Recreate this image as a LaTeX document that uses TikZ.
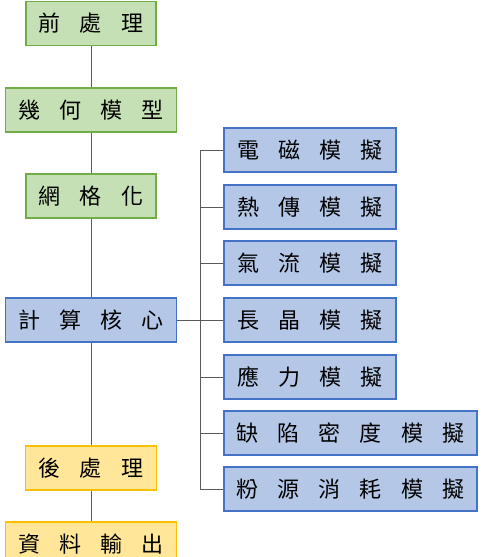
\documentclass[tikz,border=0pt]{standalone}
\usepackage{fontspec}
\newfontfamily\cjk{Noto Sans CJK TC}
\usetikzlibrary{positioning}
\definecolor{grfill}{HTML}{C5E0B4}
\definecolor{grline}{HTML}{70AD47}
\definecolor{blfill}{HTML}{B4C7E7}
\definecolor{blline}{HTML}{4472C4}
\definecolor{ylfill}{HTML}{FFE699}
\definecolor{ylline}{HTML}{FFC000}
\newcommand\boxfont{\cjk\fontsize{22}{22}\selectfont\spaceskip=0.87em plus 0pt\relax}

\begin{document}
\begin{tikzpicture}[x=1pt, y=-1pt, line width=0.9pt,
  bx/.style={draw, line width=1.8pt, minimum height=44pt, inner sep=0pt, font=\boxfont},
  gr/.style={bx, draw=grline, fill=grfill},
  bl/.style={bx, draw=blline, fill=blfill},
  yl/.style={bx, draw=ylline, fill=ylfill},
  ln/.style={draw=black!65, line width=0.9pt}]
  \useasboundingbox (0,0) rectangle (490,557);
  \clip (0,0) rectangle (490,557);
  % main column
  \node[gr, minimum width=130pt] (pre)  at (91,23.5) {前 處 理};
  \node[gr, minimum width=171pt] (geo)  at (91,110)  {幾 何 模 型};
  \node[gr, minimum width=130pt] (mesh) at (91,196)  {網 格 化};
  \node[bl, minimum width=171pt] (core) at (91,320)  {計 算 核 心};
  \node[yl, minimum width=131pt] (post) at (91,468)  {後 處 理};
  \node[yl, minimum width=171pt] (out)  at (91,544)  {資 料 輸 出};
  % simulation modules
  \node[bl, minimum width=172pt, anchor=west] (em)   at (223,150) {電 磁 模 擬};
  \node[bl, minimum width=172pt, anchor=west] (heat) at (223,207) {熱 傳 模 擬};
  \node[bl, minimum width=172pt, anchor=west] (flow) at (223,263) {氣 流 模 擬};
  \node[bl, minimum width=172pt, anchor=west] (grow) at (223,320) {長 晶 模 擬};
  \node[bl, minimum width=172pt, anchor=west] (strs) at (223,377) {應 力 模 擬};
  \node[bl, minimum width=253pt, anchor=west] (dens) at (223,433) {缺 陷 密 度 模 擬};
  \node[bl, minimum width=253pt, anchor=west] (powd) at (223,489) {粉 源 消 耗 模 擬};
  \foreach \a/\b in {pre/geo,geo/mesh,mesh/core,core/post,post/out} \draw[ln] (\a) -- (\b);
  \draw[ln] (core) -- (grow);
  \draw[ln] (em.west) -- ++(-23,0) |- (powd.west);
  \foreach \a in {heat,flow,strs,dens} \draw[ln] (\a.west) -- ++(-23,0);
\end{tikzpicture}
\end{document}
